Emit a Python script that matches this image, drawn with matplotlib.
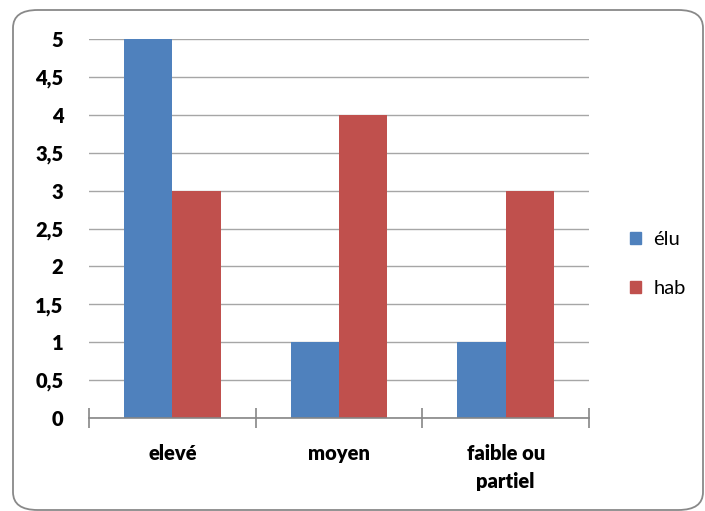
import numpy as np
import matplotlib.pyplot as plt
from matplotlib.patches import FancyBboxPatch, Patch

plt.rcParams["font.family"] = ["Lato", "DejaVu Sans"]

categories = ["elevé", "moyen", "faible ou\npartiel"]
series_names = ["élu", "hab"]
elu = [5, 1, 1]
hab = [3, 4, 3]
colors = ["#4F81BD", "#C0504D"]
yticks = np.arange(0, 5.01, 0.5)
ytick_labels = [f"{v:g}".replace(".", ",") for v in yticks]

fig = plt.figure(figsize=(7.05, 5.11), dpi=100)

# rounded chart border, drawn behind the axes
border = FancyBboxPatch((13 / 705, 1 / 511), 690 / 705, 500 / 511,
                        boxstyle="round,pad=0,rounding_size=0.035",
                        transform=fig.transFigure, facecolor="white",
                        edgecolor="#898989", linewidth=1.3, zorder=-1)
fig.patches.append(border)

ax = fig.add_axes([89 / 705, 93 / 511, 500 / 705, 379 / 511])
ax.set_facecolor("none")

x = np.arange(len(categories))
w = 0.29
ax.bar(x - w / 2, elu, w, color=colors[0], zorder=3, label=series_names[0])
ax.bar(x + w / 2, hab, w, color=colors[1], zorder=3, label=series_names[1])

ax.set_xlim(-0.5, len(categories) - 0.5)
ax.set_ylim(0, 5)
ax.set_yticks(yticks)
ax.set_yticklabels(ytick_labels, fontsize=14.5, fontweight="heavy")
ax.yaxis.grid(True, color="#A6A6A6", linewidth=1.0, zorder=0)
ax.tick_params(axis="y", length=0, pad=18.5)

# category boundaries as ticks crossing the axis line
ax.set_xticks(np.arange(-0.5, len(categories)), minor=False)
ax.set_xticklabels([])
ax.tick_params(axis="x", which="major", direction="inout", length=14,
               width=1.2, color="#868686")
ax.set_xticks(x, minor=True)
ax.set_xticklabels(categories, minor=True, fontsize=14.5, fontweight="heavy",
                   linespacing=1.55)
ax.tick_params(axis="x", which="minor", length=0, pad=19)

for side in ("left", "right", "top"):
    ax.spines[side].set_visible(False)
ax.spines["bottom"].set_color("#868686")
ax.spines["bottom"].set_linewidth(1.2)
ax.spines["bottom"].set_zorder(4)

handles = [Patch(color=c, label=n) for c, n in zip(colors, series_names)]
fig.legend(handles=handles, loc="center left", bbox_to_anchor=(612 / 705, 1 - 264 / 511),
           frameon=False, fontsize=14.5, handlelength=0.55, handleheight=0.55,
           handletextpad=0.6, labelspacing=1.6)

fig.savefig("out.png", dpi=100)
